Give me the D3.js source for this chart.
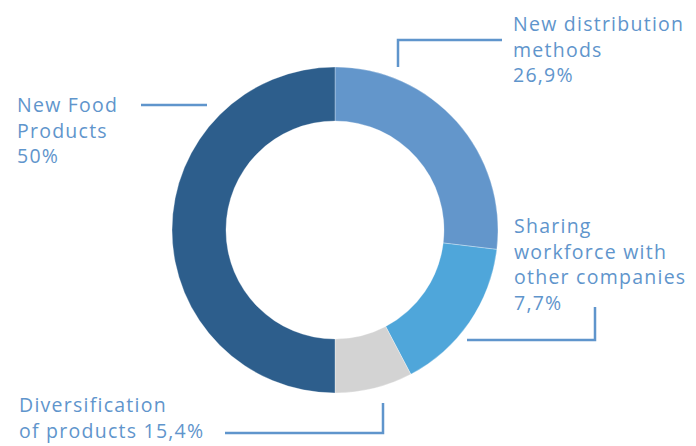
<!DOCTYPE html>
<html>
<head>
<meta charset="utf-8">
<script src="https://cdn.jsdelivr.net/npm/d3@7"></script>
<style>
  html, body { margin: 0; padding: 0; background: #ffffff; }
  svg { display: block; }
  .lbl { font-family: "Open Sans", "Noto Sans", sans-serif; font-weight: 400; fill: #5f95cc; letter-spacing: 1.25px; }
</style>
</head>
<body>
<svg id="chart" width="696" height="446"></svg>
<script>
// Segments, clockwise from twelve o'clock
const categories = [
  "New distribution methods",
  "Diversification of products",
  "Sharing workforce with other companies",
  "New Food Products"
];
const values = [26.9, 15.4, 7.7, 50];
const colors = ["#6396cb", "#4fa6da", "#d3d3d3", "#2d5e8c"];

// Label text lines per category (value appended from the data)
const labelLines = [
  ["New distribution", "methods"],
  ["Diversification", "of products"],
  ["Sharing", "workforce with", "other companies"],
  ["New Food", "Products"]
];
// Whether the value sits on its own line or closes the last line
const valueOwnLine = [true, false, true, true];

const fmt = v => String(v).replace(".", ",") + "%";

const svg = d3.select("#chart");
const cx = 335, cy = 230;
const outerR = 163, innerR = 109;

const pie = d3.pie().sort(null).value(d => d.value);
const arc = d3.arc().innerRadius(innerR).outerRadius(outerR);

const data = categories.map((c, i) => ({ name: c, value: values[i], color: colors[i] }));

const g = svg.append("g").attr("transform", `translate(${cx},${cy})`);
g.selectAll("path")
  .data(pie(data))
  .join("path")
  .attr("d", arc)
  .attr("fill", d => d.data.color)
  .attr("stroke", "rgba(255,255,255,0.5)")
  .attr("stroke-width", 0.6);

// Label anchors and leader lines (layout)
const labelPos = [
  { x: 513, y: 31 },
  { x: 19, y: 412 },
  { x: 514, y: 233 },
  { x: 17, y: 112 }
];
const leaders = [
  [[398, 67], [398, 40], [502, 40]],
  [[383, 403], [383, 433], [225, 433]],
  [[595, 307], [595, 340], [467, 340]],
  [[141, 105], [207, 105]]
];
const lineH = 25.5;

const line = d3.line();
svg.selectAll("path.leader")
  .data(leaders)
  .join("path")
  .attr("class", "leader")
  .attr("d", d => line(d))
  .attr("fill", "none")
  .attr("stroke", "#5f95cc")
  .attr("stroke-width", 2.5);

data.forEach((d, i) => {
  const lines = labelLines[i].slice();
  if (valueOwnLine[i]) lines.push(fmt(d.value));
  else lines[lines.length - 1] += " " + fmt(d.value);
  const t = svg.append("text")
    .attr("class", "lbl")
    .attr("x", labelPos[i].x)
    .attr("y", labelPos[i].y)
    .attr("font-size", 19.5);
  lines.forEach((s, k) => {
    t.append("tspan")
      .attr("x", labelPos[i].x)
      .attr("dy", k === 0 ? 0 : lineH)
      .text(s);
  });
});
</script>
</body>
</html>
